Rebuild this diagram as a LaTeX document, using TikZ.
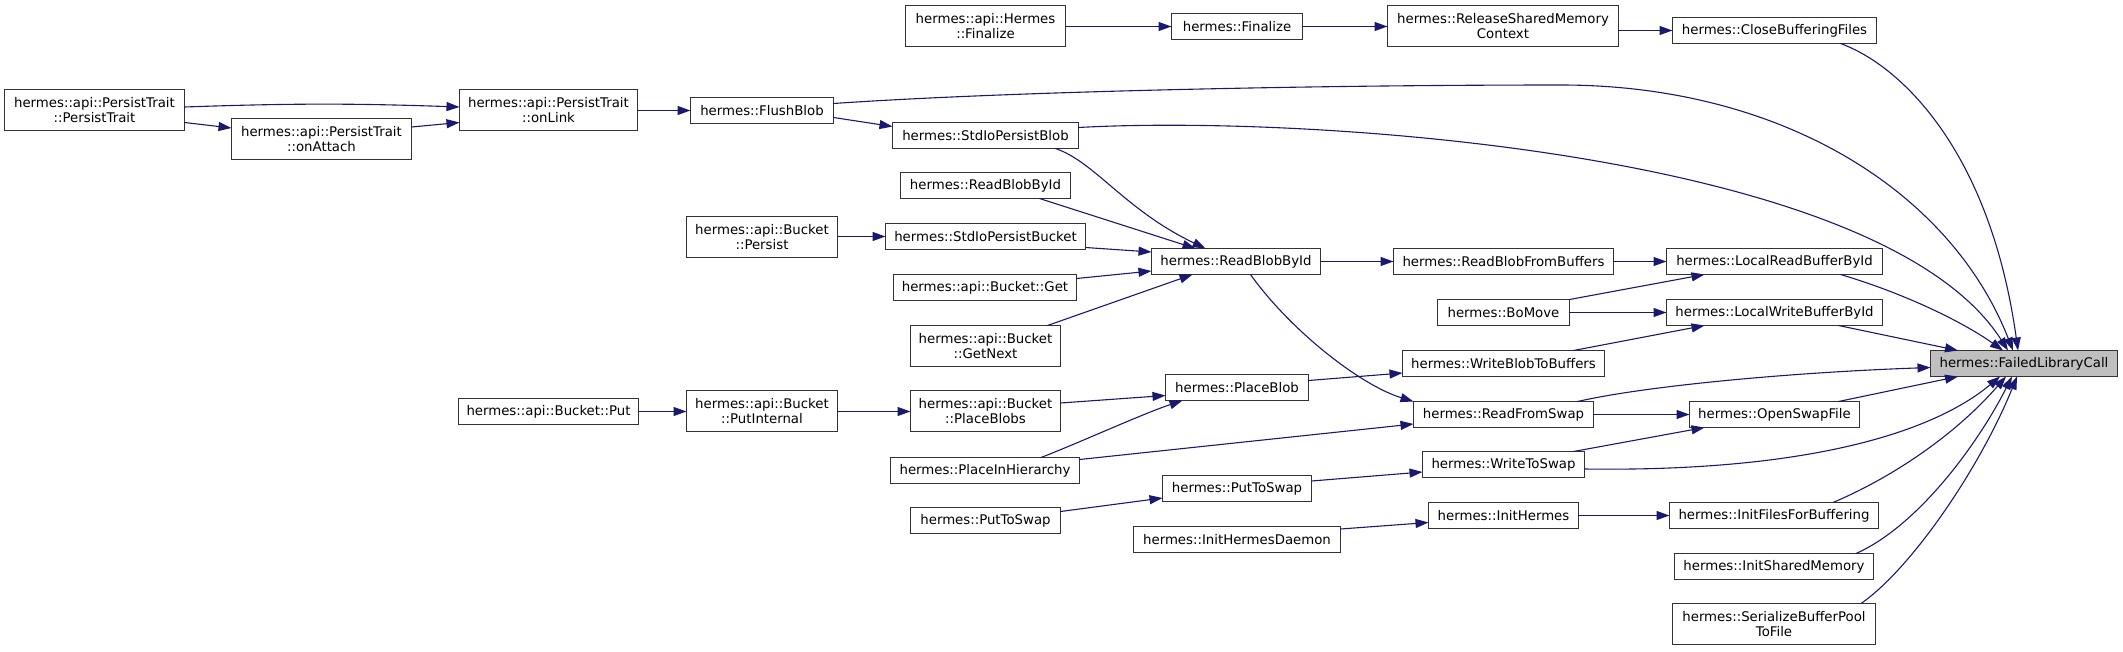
\documentclass[tikz,border=0pt]{standalone}
\usepackage{fontspec}
\setmainfont{DejaVu Sans}
\usetikzlibrary{arrows.meta}
\definecolor{edgeblue}{HTML}{191970}
\definecolor{boxgray}{HTML}{BFBFBF}

\begin{document}
\begin{tikzpicture}[x=1pt, y=-1pt, font=\fontsize{13.3}{15}\selectfont, line cap=round, >={Triangle[length=13pt,width=9pt]},
		fn/.style={draw=black!80, line width=1.3pt, fill=white, inner sep=0pt, outer sep=0pt, minimum height=26pt, align=center},
		two/.style={minimum height=41pt},
		call/.style={->, draw=edgeblue, line width=1.1pt}]
	\useasboundingbox (0,0) rectangle (2123,651);
	\node[fn, two, minimum width=180pt] (persistTrait) at (94.5,110) {hermes::api::PersistTrait\\::PersistTrait};
	\node[fn, two, minimum width=180pt] (onAttach) at (321.5,139) {hermes::api::PersistTrait\\::onAttach};
	\node[fn, two, minimum width=178pt] (onLink) at (548.5,110) {hermes::api::PersistTrait\\::onLink};
	\node[fn, minimum width=143pt] (flushBlob) at (762,110.5) {hermes::FlushBlob};
	\node[fn, two, minimum width=160pt] (apiFinalize) at (985.5,26) {hermes::api::Hermes\\::Finalize};
	\node[fn, minimum width=131pt] (finalize) at (1237,26.5) {hermes::Finalize};
	\node[fn, two, minimum width=231pt] (releaseShm) at (1503,26) {hermes::ReleaseSharedMemory\\Context};
	\node[fn, minimum width=204pt] (closeBuffering) at (1774.5,30.5) {hermes::CloseBufferingFiles};
	\node[fn, minimum width=186pt] (stdIoPersistBlob) at (985.5,135.5) {hermes::StdIoPersistBlob};
	\node[fn, minimum width=170pt] (readBlobByIdL) at (985.5,185.5) {hermes::ReadBlobById};
	\node[fn, two, minimum width=151pt] (bucketPersist) at (762,237) {hermes::api::Bucket\\::Persist};
	\node[fn, minimum width=200pt] (stdIoPersistBucket) at (985.5,236.5) {hermes::StdIoPersistBucket};
	\node[fn, minimum width=169pt] (readBlobById) at (1236,261.5) {hermes::ReadBlobById};
	\node[fn, minimum width=183pt] (bucketGet) at (985,287.5) {hermes::api::Bucket::Get};
	\node[fn, two, minimum width=150pt] (getNext) at (985.5,346) {hermes::api::Bucket\\::GetNext};
	\node[fn, minimum width=220pt] (readBlobFromBuffers) at (1503.5,261.5) {hermes::ReadBlobFromBuffers};
	\node[fn, minimum width=216pt] (localRead) at (1774.5,261.5) {hermes::LocalReadBufferById};
	\node[fn, minimum width=132pt] (boMove) at (1503.5,312.5) {hermes::BoMove};
	\node[fn, minimum width=216pt] (localWrite) at (1774.5,312.5) {hermes::LocalWriteBufferById};
	\node[fn, minimum width=202pt] (writeBlobToBuffers) at (1503.5,363.5) {hermes::WriteBlobToBuffers};
	\node[fn, fill=boxgray, minimum width=187pt] (failed) at (2024,363.5) {hermes::FailedLibraryCall};
	\node[fn, minimum width=180pt] (bucketPut) at (548.5,411.5) {hermes::api::Bucket::Put};
	\node[fn, two, minimum width=151pt] (putInternal) at (762,411) {hermes::api::Bucket\\::PutInternal};
	\node[fn, two, minimum width=150pt] (placeBlobs) at (985.5,411) {hermes::api::Bucket\\::PlaceBlobs};
	\node[fn, minimum width=143pt] (placeBlob) at (1237,387.5) {hermes::PlaceBlob};
	\node[fn, minimum width=180pt] (readFromSwap) at (1503.5,414.5) {hermes::ReadFromSwap};
	\node[fn, minimum width=170pt] (openSwapFile) at (1774.5,414.5) {hermes::OpenSwapFile};
	\node[fn, minimum width=189pt] (placeInHierarchy) at (985,470.5) {hermes::PlaceInHierarchy};
	\node[fn, minimum width=162pt] (writeToSwap) at (1503.5,464.5) {hermes::WriteToSwap};
	\node[fn, minimum width=149pt] (putToSwapR) at (1237,488.5) {hermes::PutToSwap};
	\node[fn, minimum width=150pt] (putToSwapL) at (985.5,520.5) {hermes::PutToSwap};
	\node[fn, minimum width=207pt] (initHermesDaemon) at (1237,539.5) {hermes::InitHermesDaemon};
	\node[fn, minimum width=150pt] (initHermes) at (1503.5,515.5) {hermes::InitHermes};
	\node[fn, minimum width=209pt] (initFiles) at (1774,515.5) {hermes::InitFilesForBuffering};
	\node[fn, minimum width=199pt] (initShm) at (1774,566.5) {hermes::InitSharedMemory};
	\node[fn, two, minimum width=203pt] (serialize) at (1774,624) {hermes::SerializeBufferPool\\ToFile};

	\draw[call] ([yshift=3pt]persistTrait.east) to[bend left=2] ([yshift=3pt]onLink.west);
	\draw[call] ([yshift=-12.5pt]persistTrait.east) -- ([yshift=11pt]onAttach.west);
	\draw[call] ([yshift=12pt]onAttach.east) -- ([yshift=-12.5pt]onLink.west);
	\draw[call] (onLink.east |- flushBlob.west) -- (flushBlob.west);
	\draw[call] ([yshift=-7pt]flushBlob.east) -- ([yshift=9pt]stdIoPersistBlob.west);
	\draw[call] ([yshift=7pt]flushBlob.east) .. controls (1000,92) and (1300,85) .. (1561,85) .. controls (1780,85) and (1950,190) .. ([xshift=-11pt]failed.north);
	\draw[call] (apiFinalize.east |- finalize.west) -- (finalize.west);
	\draw[call] (finalize.east) -- (releaseShm.west |- finalize.east);
	\draw[call] (releaseShm.east |- closeBuffering.west) -- (closeBuffering.west);
	\draw[call] ([xshift=66pt]closeBuffering.south) .. controls (1900,65) and (1990,150) .. ([xshift=-6pt]failed.north);
	\draw[call] ([yshift=8pt]stdIoPersistBlob.east) .. controls (1300,115) and (1880,150) .. ([xshift=-16pt]failed.north);
	\draw[call] ([xshift=70pt]stdIoPersistBlob.south) .. controls (1095,162) and (1125,210) .. ([xshift=-30.5pt]readBlobById.north);
	\draw[call] ([xshift=54pt]readBlobByIdL.south) -- ([xshift=-40.5pt]readBlobById.north);
	\draw[call] (bucketPersist.east |- stdIoPersistBucket.west) -- (stdIoPersistBucket.west);
	\draw[call] ([yshift=-11pt]stdIoPersistBucket.east) -- ([yshift=9.5pt]readBlobById.west);
	\draw[call] ([yshift=9pt]bucketGet.east) -- ([yshift=-9.5pt]readBlobById.west);
	\draw[call] ([xshift=62pt]getNext.north) -- ([xshift=-43.5pt]readBlobById.south);
	\draw[call] (readBlobById.east) -- (readBlobFromBuffers.west);
	\draw[call] ([xshift=14.5pt]readBlobById.south) .. controls (1290,330) and (1360,385) .. (readFromSwap.north west);
	\draw[call] (readBlobFromBuffers.east) -- (localRead.west);
	\draw[call] (boMove.north east) -- ([xshift=-70pt]localRead.south);
	\draw[call] (boMove.east) -- (localWrite.west);
	\draw[call] ([xshift=66pt]localRead.south) .. controls (1900,292) and (1960,320) .. ([xshift=-21pt]failed.north);
	\draw[call] ([xshift=64pt]localWrite.south) -- ([xshift=-66pt]failed.north);
	\draw[call] ([xshift=70pt]writeBlobToBuffers.north) -- ([xshift=-70pt]localWrite.south);
	\draw[call] ([yshift=7pt]placeBlob.east) -- ([yshift=-9.5pt]writeBlobToBuffers.west);
	\draw[call] ([xshift=74pt]readFromSwap.north) .. controls (1650,385) and (1800,372) .. ([yshift=-4pt]failed.west);
	\draw[call] (readFromSwap.east) -- (openSwapFile.west);
	\draw[call] ([xshift=64pt]openSwapFile.north) -- ([xshift=-66pt]failed.south);
	\draw[call] ([xshift=70pt]writeToSwap.north) -- ([xshift=-70pt]openSwapFile.south);
	\draw[call] ([yshift=-4.5pt]writeToSwap.east) .. controls (1800,472) and (1930,435) .. ([xshift=-24pt]failed.south);
	\draw[call] (bucketPut.east) -- (putInternal.west |- bucketPut.east);
	\draw[call] ([yshift=-0.5pt]putInternal.east) -- ([yshift=-0.5pt]placeBlobs.west);
	\draw[call] ([yshift=8pt]placeBlobs.east) -- ([yshift=-8pt]placeBlob.west);
	\draw[call] ([xshift=56pt]placeInHierarchy.north) .. controls (1081,442) and (1142,414) .. ([xshift=-54.5pt]placeBlob.south);
	\draw[call] ([yshift=11pt]placeInHierarchy.east) -- ([yshift=-9.5pt]readFromSwap.west);
	\draw[call] ([yshift=9pt]putToSwapL.east) -- ([yshift=-9.5pt]putToSwapR.west);
	\draw[call] ([yshift=7.5pt]putToSwapR.east) -- ([yshift=-7.5pt]writeToSwap.west);
	\draw[call] ([yshift=10.5pt]initHermesDaemon.east) -- ([yshift=-7pt]initHermes.west);
	\draw[call] (initHermes.east) -- (initFiles.west);
	\draw[call] ([xshift=59pt]initFiles.north) .. controls (1893,477) and (1955,435) .. ([xshift=-18pt]failed.south);
	\draw[call] ([xshift=82pt]initShm.north) .. controls (1920,525) and (1980,440) .. ([xshift=-12pt]failed.south);
	\draw[call] ([xshift=87pt]serialize.north) .. controls (1911,569) and (1980,468) .. ([xshift=-7pt]failed.south);
\end{tikzpicture}
\end{document}
